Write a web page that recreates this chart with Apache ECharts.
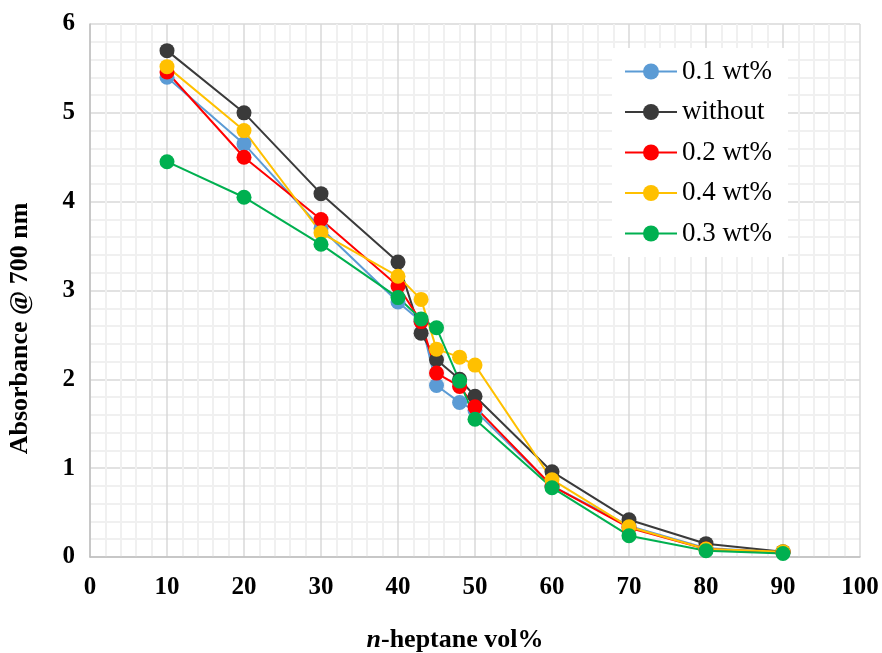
<!DOCTYPE html>
<html><head><meta charset="utf-8">
<script src="https://cdn.jsdelivr.net/npm/echarts@6/dist/echarts.min.js"></script>
<style>html,body{margin:0;padding:0;background:#fff}#c{width:882px;height:653px}</style>
</head><body><div id="c"></div>
<script>
const xVals = [10, 20, 30, 40, 43, 45, 48, 50, 60, 70, 80, 90];
const names = ['0.1 wt%', 'without', '0.2 wt%', '0.4 wt%', '0.3 wt%'];
const colors = ['#5B9BD5', '#3A3A3A', '#FF0000', '#FFC000', '#00B050'];
const wt01 = [5.40, 4.65, 3.70, 2.87, 2.65, 1.93, 1.74, 1.65, 0.80, 0.35, 0.10, 0.05];
const without = [5.70, 5.00, 4.09, 3.32, 2.52, 2.22, 2.00, 1.81, 0.96, 0.42, 0.15, 0.06];
const wt02 = [5.46, 4.50, 3.80, 3.05, 2.65, 2.07, 1.92, 1.69, 0.80, 0.33, 0.09, 0.05];
const wt04 = [5.52, 4.80, 3.65, 3.16, 2.90, 2.34, 2.25, 2.16, 0.87, 0.34, 0.09, 0.06];
const wt03 = [4.45, 4.05, 3.52, 2.92, 2.68, 2.58, 1.98, 1.55, 0.78, 0.24, 0.07, 0.04];
const seriesVals = [wt01, without, wt02, wt04, wt03];

const font = 'Liberation Serif, Times New Roman, serif';
const chart = echarts.init(document.getElementById('c'));
chart.setOption({
  animation: false,
  grid: {left: 90, right: 22, top: 24, bottom: 96, containLabel: false, outerBoundsMode: 'none'},
  legend: {
    orient: 'vertical', left: 612, top: 48, padding: [10, 16, 10, 12],
    backgroundColor: '#fff', itemWidth: 52, itemHeight: 20, itemGap: 13.5,
    textStyle: {fontFamily: font, fontSize: 27, color: '#000'},
    data: names
  },
  xAxis: {
    type: 'value', min: 0, max: 100, interval: 10,
    axisLine: {show: true, lineStyle: {color: '#BFBFBF', width: 1.5}},
    axisTick: {show: false},
    axisLabel: {fontFamily: font, fontSize: 25, fontWeight: 'bold', color: '#000', margin: 18},
    splitLine: {show: true, lineStyle: {color: '#D9D9D9', width: 1.5}},
    minorTick: {show: false, splitNumber: 5},
    minorSplitLine: {show: true, lineStyle: {color: '#F0F0F0', width: 2}},
    name: '{i|n}-heptane vol%', nameLocation: 'middle', nameGap: 70,
    nameTextStyle: {fontFamily: font, fontSize: 26, fontWeight: 'bold', color: '#000', padding: [0, 40, 0, 0],
      rich: {i: {fontFamily: font, fontSize: 26, fontWeight: 'bold', fontStyle: 'italic', color: '#000'}}}
  },
  yAxis: {
    type: 'value', min: 0, max: 6, interval: 1,
    axisLine: {show: true, lineStyle: {color: '#BFBFBF', width: 1.5}},
    axisTick: {show: false},
    axisLabel: {fontFamily: font, fontSize: 25, fontWeight: 'bold', color: '#000', margin: 15},
    splitLine: {show: true, lineStyle: {color: '#D9D9D9', width: 1.5}},
    minorTick: {show: false, splitNumber: 5},
    minorSplitLine: {show: true, lineStyle: {color: '#F0F0F0', width: 2}},
    name: 'Absorbance @ 700 nm', nameLocation: 'middle', nameGap: 57,
    nameTextStyle: {fontFamily: font, fontSize: 26, fontWeight: 'bold', color: '#000', padding: [0, 76, 0, 0]}
  },
  series: names.map((n, i) => ({
    name: n, type: 'line', symbol: 'circle', symbolSize: 15,
    lineStyle: {color: colors[i], width: 2},
    itemStyle: {color: colors[i]},
    data: xVals.map((x, j) => [x, seriesVals[i][j]])
  }))
});
</script></body></html>
